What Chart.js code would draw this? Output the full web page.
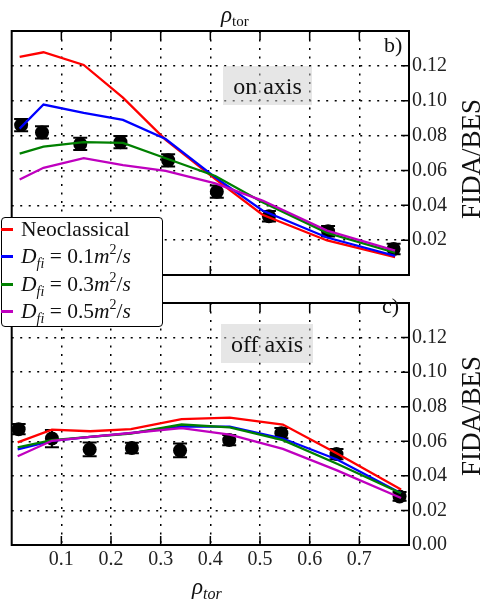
<!DOCTYPE html>
<html><head><meta charset="utf-8">
<script src="https://cdn.jsdelivr.net/npm/chart.js@4"></script>
<style>
html,body{margin:0;padding:0;background:#fff;width:481px;height:599px;overflow:hidden;}
body{position:relative;font-family:"Liberation Serif","Times New Roman",serif;color:#111;}
canvas{position:absolute;left:0;}
#c1{top:0}
#c2{top:288px}
.ov{position:absolute;white-space:nowrap;line-height:1;}
.tag{background:rgba(205,205,205,0.5);text-align:center;font-size:24px;}
.leg{position:absolute;left:1px;top:217px;width:162px;height:110px;box-sizing:border-box;border:1.5px solid #000;border-radius:4px;background:#fff;font-size:21.5px;}
.row{position:absolute;left:0;height:27px;line-height:27px;white-space:nowrap;}
.hd{position:absolute;left:-1px;top:12px;width:12px;height:3px;}
.tx{position:absolute;left:19px;top:0;}
sub,sup{font-size:14px;line-height:0;}
sub{vertical-align:-5px;}
sup{vertical-align:9px;}
</style></head>
<body>
<canvas id="c1" width="481" height="290"></canvas>
<canvas id="c2" width="481" height="311"></canvas>

<div class="ov" style="left:221px;top:3px;font-size:23px;"><i>ρ</i><span style="font-size:15px;position:relative;top:4px;">tor</span></div>
<div class="ov" style="left:192px;top:575px;font-size:23px;"><i>ρ</i><span style="font-size:16px;position:relative;top:5px;font-style:italic;">tor</span></div>

<div class="ov" style="left:471px;top:158.5px;font-size:27px;transform:translate(-50%,-50%) rotate(-90deg);">FIDA/BES</div>
<div class="ov" style="left:471px;top:416px;font-size:27px;transform:translate(-50%,-50%) rotate(-90deg);">FIDA/BES</div>

<div class="ov" style="left:384px;top:34px;font-size:22px;">b)</div>
<div class="ov" style="left:382px;top:295px;font-size:22px;">c)</div>

<div class="ov tag" style="left:223px;top:66px;width:89px;height:39px;line-height:40px;">on axis</div>
<div class="ov tag" style="left:221px;top:324px;width:92px;height:39px;line-height:40px;">off axis</div>

<div class="leg">
  <div class="row" style="top:-2px"><span class="hd" style="background:#ff0000"></span><span class="tx">Neoclassical</span></div>
  <div class="row" style="top:25px"><span class="hd" style="background:#0000ff"></span><span class="tx"><i>D</i><sub><i>fi</i></sub> = 0.1<i>m</i><sup>2</sup>/<i>s</i></span></div>
  <div class="row" style="top:52.5px"><span class="hd" style="background:#008000"></span><span class="tx"><i>D</i><sub><i>fi</i></sub> = 0.3<i>m</i><sup>2</sup>/<i>s</i></span></div>
  <div class="row" style="top:80px"><span class="hd" style="background:#bf00bf"></span><span class="tx"><i>D</i><sub><i>fi</i></sub> = 0.5<i>m</i><sup>2</sup>/<i>s</i></span></div>
</div>

<script>
// ---------- data ----------
const seriesNames = ["Neoclassical", "D_fi = 0.1 m^2/s", "D_fi = 0.3 m^2/s", "D_fi = 0.5 m^2/s"];
const seriesColors = ["#ff0000", "#0000ff", "#008000", "#bf00bf"];
const yTickValues = [0.00, 0.02, 0.04, 0.06, 0.08, 0.10, 0.12];
const xTickValues = [0.1, 0.2, 0.3, 0.4, 0.5, 0.6, 0.7];

// (b) on axis
const onAxisRho  = [0.019, 0.061, 0.138, 0.219, 0.315, 0.413, 0.518, 0.637, 0.769];
const onAxisMeas = [0.0860, 0.0818, 0.0752, 0.0762, 0.0658, 0.0478, 0.0337, 0.0251, 0.0149];
const onAxisErr  = [0.0035, 0.0035, 0.0035, 0.0035, 0.0035, 0.0035, 0.0030, 0.0030, 0.0030];
const onAxisModelRho = [0.016, 0.064, 0.145, 0.224, 0.310, 0.410, 0.505, 0.635, 0.772];
const onAxisNeo  = [0.1252, 0.1278, 0.1205, 0.1018, 0.0775, 0.0550, 0.0346, 0.0198, 0.0102];
const onAxisD01  = [0.0840, 0.0978, 0.0930, 0.0890, 0.0780, 0.0560, 0.0370, 0.0215, 0.0110];
const onAxisD03  = [0.0697, 0.0736, 0.0762, 0.0758, 0.0670, 0.0568, 0.0418, 0.0242, 0.0128];
const onAxisD05  = [0.0548, 0.0615, 0.0671, 0.0630, 0.0598, 0.0526, 0.0427, 0.0255, 0.0140];

// (c) off axis
const offAxisRho  = [0.014, 0.081, 0.157, 0.242, 0.339, 0.438, 0.543, 0.654, 0.781];
const offAxisMeas = [0.0670, 0.0616, 0.0553, 0.0561, 0.0547, 0.0607, 0.0647, 0.0526, 0.0281];
const offAxisErr  = [0.0030, 0.0050, 0.0040, 0.0030, 0.0040, 0.0030, 0.0030, 0.0030, 0.0025];
const offAxisModelRho = [0.012, 0.081, 0.158, 0.240, 0.342, 0.439, 0.546, 0.655, 0.784];
const offAxisNeo  = [0.0594, 0.0667, 0.0658, 0.0670, 0.0728, 0.0737, 0.0697, 0.0530, 0.0321];
const offAxisD01  = [0.0553, 0.0602, 0.0625, 0.0647, 0.0685, 0.0685, 0.0616, 0.0495, 0.0299];
const offAxisD03  = [0.0565, 0.0607, 0.0625, 0.0645, 0.0697, 0.0680, 0.0607, 0.0470, 0.0299];
const offAxisD05  = [0.0513, 0.0603, 0.0625, 0.0648, 0.0676, 0.0638, 0.0556, 0.0432, 0.0272];

// ---------- helpers ----------
const pts = (xs, ys) => xs.map((x, i) => ({x: x, y: ys[i]}));

const errPlugin = {
  id: 'errbars',
  beforeDatasetsDraw(chart, args, opts) {
    const ctx = chart.ctx, xs = chart.scales.x, ys = chart.scales.y;
    ctx.save();
    ctx.strokeStyle = '#000';
    ctx.lineWidth = 2;
    opts.x.forEach((x, i) => {
      const px = xs.getPixelForValue(x);
      const y0 = ys.getPixelForValue(opts.y[i] - opts.e[i]);
      const y1 = ys.getPixelForValue(opts.y[i] + opts.e[i]);
      ctx.beginPath();
      ctx.moveTo(px, y0); ctx.lineTo(px, y1);
      ctx.moveTo(px - 7, y0); ctx.lineTo(px + 7, y0);
      ctx.moveTo(px - 7, y1); ctx.lineTo(px + 7, y1);
      ctx.stroke();
    });
    ctx.restore();
  }
};

const framePlugin = {
  id: 'frame',
  afterDatasetsDraw(chart) {
    const ctx = chart.ctx, a = chart.chartArea, xs = chart.scales.x, ys = chart.scales.y;
    ctx.save();
    ctx.strokeStyle = '#000';
    ctx.lineWidth = 1.5;
    ctx.beginPath();
    xTickValues.forEach(v => {
      const px = xs.getPixelForValue(v);
      ctx.moveTo(px, a.bottom); ctx.lineTo(px, a.bottom - 9);
      ctx.moveTo(px, a.top); ctx.lineTo(px, a.top + 9);
    });
    yTickValues.forEach(v => {
      const py = ys.getPixelForValue(v);
      ctx.moveTo(a.right, py); ctx.lineTo(a.right - 8, py);
    });
    ctx.stroke();
    ctx.lineWidth = 2;
    ctx.strokeRect(a.left, a.top, a.right - a.left, a.bottom - a.top);
    ctx.restore();
  }
};

function makeChart(id, cfg) {
  const lines = [cfg.neo, cfg.d01, cfg.d03, cfg.d05].map((ys, k) => ({
    type: 'line',
    label: seriesNames[k],
    data: pts(cfg.modelX, ys),
    borderColor: seriesColors[k],
    backgroundColor: seriesColors[k],
    borderWidth: 2.3,
    pointRadius: 0,
    tension: 0,
    fill: false,
    order: 4 - k
  }));
  const meas = {
    type: 'scatter',
    label: 'measurement',
    data: pts(cfg.measX, cfg.meas),
    backgroundColor: '#000',
    borderColor: '#000',
    borderWidth: 0,
    pointRadius: 7,
    order: 10
  };
  const tickFont = {family: "'Liberation Serif', serif", size: 20};
  const dash = [2, 6.5];
  return new Chart(document.getElementById(id), {
    type: 'line',
    data: {datasets: [...lines, meas]},
    options: {
      responsive: false,
      animation: false,
      events: [],
      layout: {padding: cfg.padding},
      plugins: {
        legend: {display: false},
        tooltip: {enabled: false},
        errbars: {x: cfg.measX, y: cfg.meas, e: cfg.err}
      },
      scales: {
        x: {
          type: 'linear',
          position: cfg.xPos,
          min: 0, max: 0.8,
          afterBuildTicks: s => { s.ticks = xTickValues.map(v => ({value: v})); },
          afterFit: s => { s.height = cfg.xHeight; },
          grid: {color: '#000', lineWidth: 1.5, drawTicks: false},
          border: {display: false, dash: dash},
          ticks: {
            display: cfg.showXTicks,
            padding: 3,
            color: '#222',
            font: tickFont,
            callback: v => v.toFixed(1)
          }
        },
        y: {
          type: 'linear',
          position: 'right',
          min: 0, max: 0.14,
          afterBuildTicks: s => { s.ticks = yTickValues.filter(v => cfg.showZero || v > 0).map(v => ({value: v})); },
          afterFit: s => { s.width = 72; },
          grid: {color: '#000', lineWidth: 1.5, drawTicks: false},
          border: {display: false, dash: dash},
          ticks: {
            padding: 3,
            color: '#222',
            font: tickFont,
            callback: v => v.toFixed(2)
          }
        }
      }
    },
    plugins: [errPlugin, framePlugin]
  });
}

makeChart('c1', {
  measX: onAxisRho, meas: onAxisMeas, err: onAxisErr,
  modelX: onAxisModelRho, neo: onAxisNeo, d01: onAxisD01, d03: onAxisD03, d05: onAxisD05,
  padding: {left: 11.7, right: 0, top: 0, bottom: 3.3},
  xPos: 'top', xHeight: 31, showXTicks: false, showZero: false
});

makeChart('c2', {
  measX: offAxisRho, meas: offAxisMeas, err: offAxisErr,
  modelX: offAxisModelRho, neo: offAxisNeo, d01: offAxisD01, d03: offAxisD03, d05: offAxisD05,
  padding: {left: 11.7, right: 0, top: 1.8, bottom: 0},
  xPos: 'bottom', xHeight: 54, showXTicks: true, showZero: true
});
</script>
</body></html>
